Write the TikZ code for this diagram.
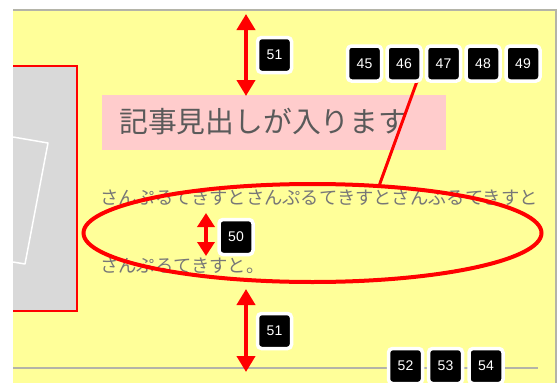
\documentclass[tikz,border=0pt]{standalone}
\usepackage{fontspec}
\newfontfamily\jpfont{Noto Sans CJK JP}
\newfontfamily\badgefont{Liberation Sans}
\usetikzlibrary{arrows.meta,shapes.geometric}
\definecolor{bgyellow}{HTML}{FFFF99}
\definecolor{linegray}{HTML}{B4B4A8}
\definecolor{imggray}{HTML}{D9D9D9}
\definecolor{pinkbox}{HTML}{FFCCCC}
\definecolor{headtext}{HTML}{5A5A5A}
\definecolor{bodytext}{HTML}{777777}
\definecolor{markred}{HTML}{FF0000}
\tikzset{
  badge/.style={rounded corners=4pt, fill=black, draw=white, line width=3.5pt,
    text=white, font=\badgefont\fontsize{14}{14}\selectfont,
    minimum width=34pt, minimum height=35pt, inner sep=0pt},
  dimarrow/.style={markred, line width=4pt,
    {Triangle[width=18pt,length=16pt]}-{Triangle[width=18pt,length=16pt]}},
  smallarrow/.style={markred, line width=4pt,
    {Triangle[width=17pt,length=14pt]}-{Triangle[width=17pt,length=14pt]}},
  frameline/.style={linegray, line width=2pt},
}
\begin{document}
\begin{tikzpicture}[x=1pt,y=-1pt]
\useasboundingbox (0,0) rectangle (557,383);
\fill[white] (0,0) rectangle (557,383);
\fill[bgyellow] (13,10) rectangle (556,383);
\draw[frameline] (13,10) -- (556,10) -- (556,383);
\draw[frameline] (13,368) -- (538,368);
% image placeholder
\fill[imggray] (13,66) rectangle (77,311);
\draw[markred, line width=1.5pt] (13,66) -- (77,66) -- (77,311) -- (13,311);
\draw[white, line width=1.5pt, line join=round] (13,137) -- (48,143) -- (25,264) -- (13,262);
% heading
\node[fill=pinkbox, anchor=north west, minimum width=344pt, minimum height=55pt, inner sep=0pt] (headbox) at (102,95) {};
\node[anchor=west, inner sep=0pt, text=headtext, font=\jpfont\fontsize{28.8}{28.8}\selectfont] (head) at (119,122) {記事見出しが入ります};
% body text
\node[anchor=west, inner sep=0pt, text=bodytext, font=\jpfont\fontsize{18.3}{18.3}\selectfont] (line1) at (100,197.5) {さんぷるてきすとさんぷるてきすとさんぷるてきすと};
\node[anchor=west, inner sep=0pt, text=bodytext, font=\jpfont\fontsize{18.3}{18.3}\selectfont] (line2) at (100,266) {さんぷるてきすと。};
% ellipse
\node[ellipse, draw=markred, line width=4pt, minimum width=458pt, minimum height=98pt, inner sep=0pt] (ell) at (312.5,233) {};
\coordinate (tip46) at (417.5,80);
\draw[markred, line width=3pt] (ell.36) -- (tip46);
% dimension arrows
\coordinate (a1t) at (246,14);
\coordinate (a1b) at (246,96);
\coordinate (a2t) at (206,213);
\coordinate (a2b) at (206,256);
\coordinate (a3t) at (246,289);
\coordinate (a3b) at (246,372);
\draw[dimarrow] (a1t) -- (a1b);
\draw[smallarrow] (a2t) -- (a2b);
\draw[dimarrow] (a3t) -- (a3b);
% badges
\node[badge] (b45) at (364.5,63.5) {45};
\node[badge] (b46) at (404,63.5) {46};
\node[badge] (b47) at (443.5,63.5) {47};
\node[badge] (b48) at (483,63.5) {48};
\node[badge] (b49) at (523,63.5) {49};
\node[badge] (b50) at (236,237) {50};
\node[badge] (b51a) at (274.5,55) {51};
\node[badge] (b51b) at (274.5,331) {51};
\node[badge] (b52) at (405.5,366) {52};
\node[badge] (b53) at (445.5,366) {53};
\node[badge] (b54) at (486,366) {54};
\end{tikzpicture}
\end{document}
